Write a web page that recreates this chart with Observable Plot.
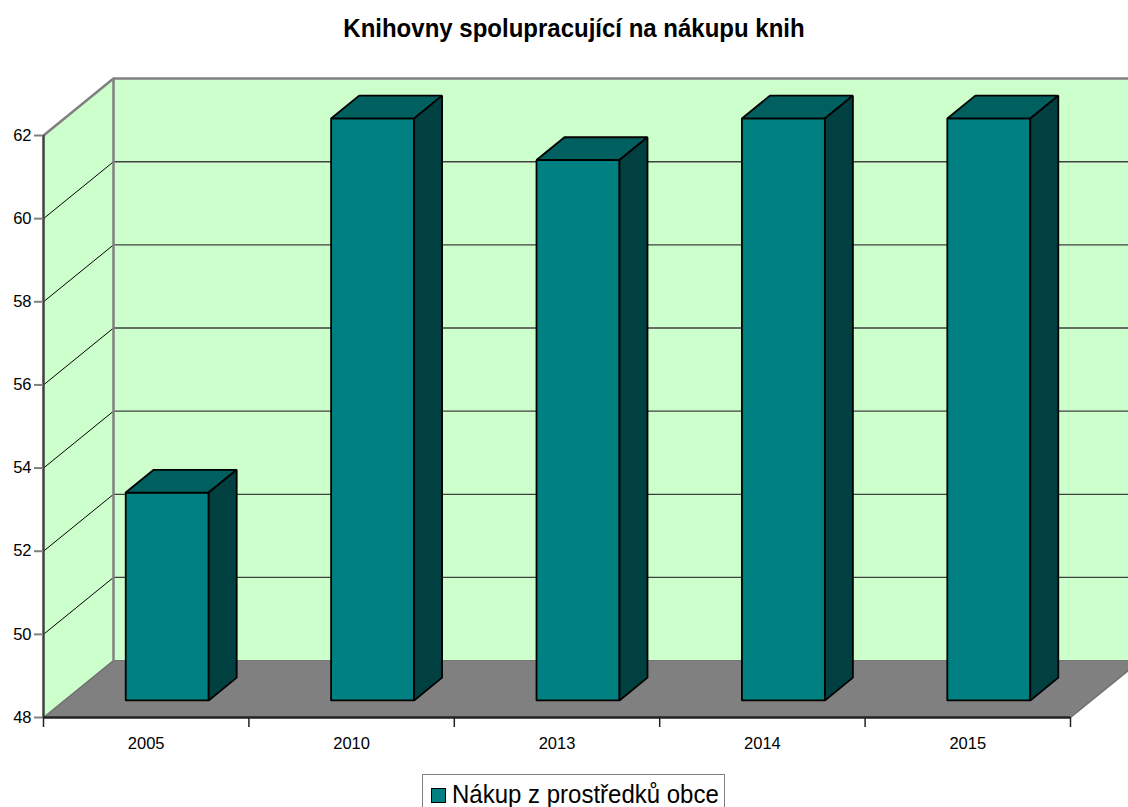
<!DOCTYPE html>
<html>
<head>
<meta charset="utf-8">
<script src="https://cdn.jsdelivr.net/npm/d3@7"></script>
<script src="https://cdn.jsdelivr.net/npm/@observablehq/plot@0.6"></script>
<style>
  html, body { margin: 0; padding: 0; background: #fff; overflow: hidden; width: 1128px; height: 807px; }
  body { position: relative; font-family: "Liberation Sans", Arial, sans-serif; }
  #title { position: absolute; left: 0; top: 17px; width: 1148px; text-align: center; font-weight: bold; font-size: 24px; line-height: 24px; white-space: nowrap; color: #000; transform: scaleY(1.07); transform-origin: 50% 80%; }
  #chart { position: absolute; left: 0; top: 52px; width: 1128px; height: 710px; overflow: hidden; }
  #legend { position: absolute; left: 422px; top: 774px; width: 303px; height: 40px; border: 1px solid #808080; box-sizing: border-box; background: #fff; }
  #legend .sw { position: absolute; left: 8px; top: 13px; width: 15px; height: 15px; background: #008080; border: 1px solid #000; box-sizing: border-box; }
  #legend .tx { position: absolute; left: 29px; top: 8px; font-size: 24px; line-height: 24px; white-space: nowrap; color: #000; transform: scaleY(1.07); transform-origin: 0 80%; }
</style>
</head>
<body>
<div id="title">Knihovny spolupracující na nákupu knih</div>
<div id="chart"></div>
<div id="legend"><div class="sw"></div><div class="tx">Nákup z prostředků obce</div></div>
<script>
// ---- data ----
const years = ["2005", "2010", "2013", "2014", "2015"];
const values = [53, 62, 61, 62, 62];
const seriesName = "Nákup z prostředků obce";
const yTicks = [48, 50, 52, 54, 56, 58, 60, 62];

// ---- 3D geometry (in data units) ----
const yMin = 48, yMax = 62;
const n = years.length;
const DX = 70 / 205.4;   // depth shift in category units
const DY = 57 / 41.64;   // depth shift in value units
const F1 = 0.3, F2 = 0.7, HW = 0.202;

const polys = [];
function addPoly(id, role, pts) {
  pts.forEach(([x, y], k) => polys.push({id, role, x, y, k}));
}
// walls and floor
addPoly("back", "back", [[DX, yMin + DY], [n + DX, yMin + DY], [n + DX, yMax + DY], [DX, yMax + DY]]);
addPoly("left", "left", [[0, yMin], [DX, yMin + DY], [DX, yMax + DY], [0, yMax]]);
addPoly("floor", "floor", [[0, yMin], [n, yMin], [n + DX, yMin + DY], [DX, yMin + DY]]);

// bars
const bars = [];
years.forEach((yr, i) => {
  const v = values[i];
  const xl = i + 0.5 - HW + F1 * DX, xr = i + 0.5 + HW + F1 * DX;
  const sx = (F2 - F1) * DX, sy = (F2 - F1) * DY;
  const yb = yMin + F1 * DY, yt = v + F1 * DY;
  bars.push({id: yr + "-front", role: "front", pts: [[xl, yb], [xr, yb], [xr, yt], [xl, yt]]});
  bars.push({id: yr + "-top", role: "top", pts: [[xl, yt], [xr, yt], [xr + sx, yt + sy], [xl + sx, yt + sy]]});
  bars.push({id: yr + "-side", role: "side", pts: [[xr, yb], [xr + sx, yb + sy], [xr + sx, yt + sy], [xr, yt]]});
});
const barPts = [];
bars.forEach(b => b.pts.forEach(([x, y], k) => barPts.push({id: b.id, role: b.role, x, y, k})));

const inner = yTicks.filter(t => t > yMin && t < yMax);
const backGrid = inner.map(t => ({x1: DX, x2: n + DX, y: t + DY}));
const leftGrid = inner.map(t => ({x1: 0, y1: t, x2: DX, y2: t + DY}));

const faceColor = {back: "#CCFFCC", left: "#CCFFCC", floor: "#808080", front: "#008080", top: "#006060", side: "#004040"};

const plot = Plot.plot({
  width: 1128,
  height: 710,
  marginLeft: 43,
  marginRight: 58,
  marginTop: 83,
  marginBottom: 45,
  style: {fontFamily: "'Liberation Sans', Arial, sans-serif", fontSize: "16.5px", color: "#000", background: "transparent"},
  x: {domain: [0, n]},
  y: {domain: [yMin, yMax]},
  marks: [
    Plot.line(polys, {x: "x", y: "y", z: "id", curve: "linear-closed", fill: d => faceColor[d.role], stroke: "none"}),
    Plot.ruleY(backGrid, {x1: "x1", x2: "x2", y: "y", stroke: "#404040", strokeWidth: 1.3}),
    Plot.link(leftGrid, {x1: "x1", y1: "y1", x2: "x2", y2: "y2", stroke: "#000", strokeWidth: 1}),
    // frame edges
    Plot.ruleY([yMax + DY], {x1: DX, x2: n + DX, stroke: "#808080", strokeWidth: 2.5}),
    Plot.ruleX([DX], {y1: yMin + DY, y2: yMax + DY, stroke: "#808080", strokeWidth: 2.5}),
    Plot.link([0], {x1: 0, y1: yMax, x2: DX, y2: yMax + DY, stroke: "#808080", strokeWidth: 2.5}),
    Plot.link([0], {x1: 0, y1: yMin, x2: DX, y2: yMin + DY, stroke: "#707070", strokeWidth: 1.5}),
    Plot.ruleY([yMin + DY], {x1: DX, x2: n + DX, stroke: "#707070", strokeWidth: 1}),
    Plot.link([0], {x1: n, y1: yMin, x2: n + DX, y2: yMin + DY, stroke: "#707070", strokeWidth: 1.5}),
    // bars
    Plot.line(barPts, {x: "x", y: "y", z: "id", curve: "linear-closed", fill: d => faceColor[d.role], stroke: "#000", strokeWidth: 1.8, strokeLinejoin: "miter"}),
    // axes
    Plot.ruleX([0], {y1: yMin, y2: yMax, stroke: "#404040", strokeWidth: 2.5}),
    Plot.ruleY([yMin], {x1: 0, x2: n, stroke: "#222", strokeWidth: 2.5}),
    Plot.axisY({ticks: yTicks, tickSize: 9, tickPadding: 3, stroke: "#808080", strokeWidth: 2, fill: "#000", fontSize: 16.5, label: null, tickFormat: d => String(d)}),
    Plot.axisX({ticks: d3.range(0, n + 1), tickSize: 10, stroke: "#222", strokeWidth: 1.5, tickFormat: () => "", label: null}),
    Plot.axisX({ticks: years.map((_, i) => i + 0.5), tickSize: 0, tickPadding: 20, fill: "#000", fontSize: 16.5, label: null, tickFormat: d => years[Math.round(d - 0.5)]})
  ]
});
document.getElementById("chart").appendChild(plot);
</script>
</body>
</html>
